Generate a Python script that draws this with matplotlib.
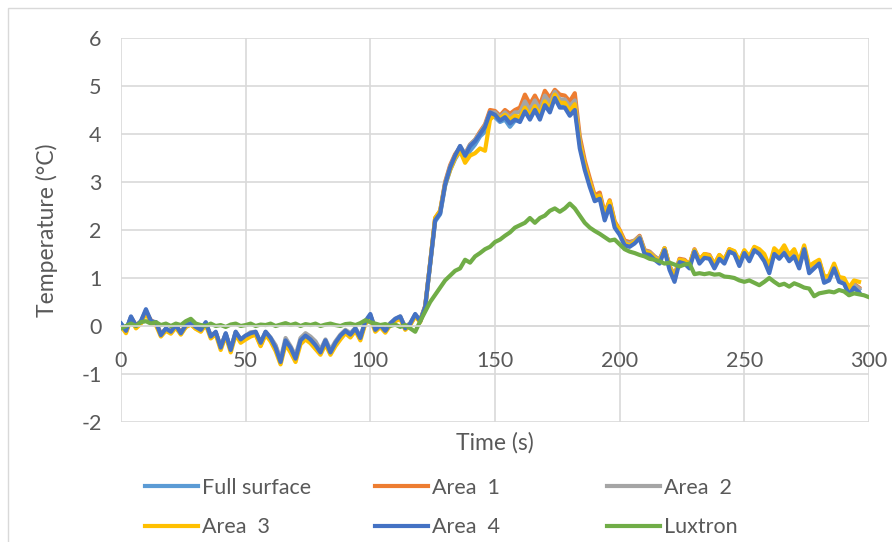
import matplotlib
matplotlib.use("Agg")
import matplotlib.pyplot as plt
import numpy as np
from matplotlib.patches import Rectangle

plt.rcParams["font.family"] = ["Lato", "DejaVu Sans"]
plt.rcParams["axes.unicode_minus"] = False

# sampled every 2 s
time_s = np.arange(0, 297, 2)
time_lux = np.arange(0, 301, 2)

full_surface = [
    0.05, -0.08, 0.18, 0.00, 0.10, 0.32, 0.08, 0.08, -0.18, -0.06,
    -0.12, 0.00, -0.15, 0.02, 0.05, -0.03, -0.08, 0.06, -0.22, -0.14,
    -0.45, -0.17, -0.50, -0.14, -0.30, -0.22, -0.16, -0.14, -0.36, -0.14,
    -0.27, -0.45, -0.74, -0.32, -0.46, -0.68, -0.32, -0.22, -0.30, -0.40,
    -0.54, -0.32, -0.54, -0.36, -0.22, -0.12, -0.18, -0.07, -0.25, 0.08,
    0.22, -0.08, 0.00, -0.10, 0.04, 0.13, 0.18, -0.05, 0.04, 0.22,
    0.10, 0.40, 1.28, 2.18, 2.33, 2.92, 3.25, 3.48, 3.65, 3.45,
    3.65, 3.78, 3.95, 4.05, 4.38, 4.35, 4.25, 4.30, 4.15, 4.28,
    4.30, 4.50, 4.38, 4.58, 4.40, 4.68, 4.55, 4.82, 4.62, 4.62,
    4.45, 4.58, 3.80, 3.32, 2.98, 2.65, 2.70, 2.28, 2.55, 2.12,
    1.95, 1.72, 1.70, 1.75, 1.85, 1.55, 1.52, 1.42, 1.35, 1.60,
    1.22, 1.00, 1.36, 1.34, 1.25, 1.56, 1.35, 1.46, 1.44, 1.25,
    1.44, 1.35, 1.56, 1.52, 1.30, 1.54, 1.40, 1.60, 1.54, 1.40,
    1.18, 1.54, 1.45, 1.58, 1.42, 1.50, 1.28, 1.62, 1.18, 1.26,
    1.32, 0.98, 1.00, 1.22, 0.98, 0.92, 0.72, 0.85, 0.76,
]

area1 = [
    0.02, -0.10, 0.18, 0.02, 0.08, 0.30, 0.12, 0.05, -0.15, -0.08,
    -0.10, 0.00, -0.12, 0.00, 0.05, -0.05, -0.10, 0.05, -0.20, -0.15,
    -0.42, -0.18, -0.48, -0.15, -0.32, -0.25, -0.18, -0.16, -0.40, -0.15,
    -0.28, -0.42, -0.72, -0.35, -0.45, -0.65, -0.32, -0.22, -0.32, -0.45,
    -0.52, -0.35, -0.52, -0.38, -0.22, -0.12, -0.20, -0.08, -0.22, 0.05,
    0.22, -0.05, 0.00, -0.08, 0.05, 0.12, 0.18, -0.02, 0.05, 0.20,
    0.12, 0.42, 1.32, 2.25, 2.40, 3.00, 3.35, 3.58, 3.72, 3.58,
    3.78, 3.88, 4.05, 4.20, 4.50, 4.48, 4.38, 4.50, 4.42, 4.50,
    4.55, 4.82, 4.62, 4.80, 4.60, 4.90, 4.75, 4.92, 4.82, 4.80,
    4.68, 4.85, 3.95, 3.45, 3.08, 2.72, 2.78, 2.35, 2.62, 2.18,
    2.00, 1.78, 1.75, 1.78, 1.88, 1.58, 1.55, 1.45, 1.38, 1.62,
    1.25, 1.05, 1.40, 1.38, 1.28, 1.60, 1.38, 1.50, 1.48, 1.28,
    1.48, 1.38, 1.60, 1.55, 1.32, 1.56, 1.42, 1.62, 1.55, 1.42,
    1.20, 1.55, 1.48, 1.60, 1.45, 1.52, 1.30, 1.62, 1.20, 1.28,
    1.35, 1.02, 1.02, 1.25, 1.00, 0.95, 0.75, 0.88, 0.80,
]

area2 = [
    0.03, -0.12, 0.16, -0.02, 0.08, 0.30, 0.10, 0.04, -0.18, -0.08,
    -0.14, -0.02, -0.16, -0.02, 0.04, -0.05, -0.10, 0.05, -0.20, -0.14,
    -0.43, -0.16, -0.48, -0.12, -0.28, -0.20, -0.13, -0.12, -0.34, -0.12,
    -0.24, -0.40, -0.70, -0.25, -0.42, -0.62, -0.25, -0.15, -0.22, -0.32,
    -0.50, -0.28, -0.50, -0.32, -0.18, -0.08, -0.15, -0.04, -0.22, 0.10,
    0.20, -0.06, 0.02, -0.08, 0.06, 0.15, 0.20, -0.03, 0.06, 0.24,
    0.12, 0.40, 1.30, 2.22, 2.38, 2.98, 3.32, 3.55, 3.75, 3.58,
    3.78, 3.88, 4.02, 4.18, 4.45, 4.45, 4.35, 4.45, 4.35, 4.45,
    4.45, 4.68, 4.50, 4.70, 4.50, 4.80, 4.65, 4.88, 4.72, 4.72,
    4.58, 4.70, 3.85, 3.35, 3.00, 2.68, 2.72, 2.30, 2.58, 2.12,
    1.95, 1.75, 1.72, 1.78, 1.86, 1.56, 1.54, 1.44, 1.38, 1.62,
    1.25, 1.02, 1.38, 1.36, 1.28, 1.58, 1.36, 1.48, 1.46, 1.26,
    1.46, 1.36, 1.58, 1.54, 1.32, 1.56, 1.40, 1.60, 1.55, 1.45,
    1.20, 1.52, 1.46, 1.58, 1.42, 1.50, 1.28, 1.62, 1.18, 1.28,
    1.33, 0.98, 1.00, 1.22, 0.98, 0.92, 0.72, 0.86, 0.78,
]

area3 = [
    0.00, -0.15, 0.15, -0.05, 0.05, 0.28, 0.05, 0.02, -0.22, -0.10,
    -0.16, -0.03, -0.18, -0.02, 0.03, -0.06, -0.12, 0.03, -0.26, -0.17,
    -0.50, -0.20, -0.55, -0.18, -0.35, -0.28, -0.22, -0.18, -0.42, -0.18,
    -0.32, -0.52, -0.80, -0.38, -0.55, -0.75, -0.38, -0.28, -0.36, -0.48,
    -0.60, -0.38, -0.60, -0.42, -0.28, -0.15, -0.24, -0.10, -0.30, 0.05,
    0.15, -0.12, -0.02, -0.14, 0.02, 0.10, 0.15, -0.08, 0.02, 0.20,
    0.08, 0.38, 1.32, 2.25, 2.40, 2.95, 3.25, 3.50, 3.65, 3.40,
    3.55, 3.60, 3.70, 3.65, 4.30, 4.40, 4.32, 4.40, 4.30, 4.38,
    4.35, 4.55, 4.38, 4.58, 4.40, 4.68, 4.52, 4.82, 4.65, 4.65,
    4.48, 4.62, 3.82, 3.35, 3.00, 2.68, 2.72, 2.32, 2.60, 2.15,
    1.98, 1.72, 1.68, 1.76, 1.84, 1.55, 1.52, 1.42, 1.35, 1.62,
    1.24, 1.00, 1.38, 1.36, 1.28, 1.58, 1.38, 1.50, 1.46, 1.28,
    1.48, 1.38, 1.60, 1.56, 1.35, 1.58, 1.45, 1.65, 1.60, 1.50,
    1.25, 1.62, 1.52, 1.68, 1.48, 1.60, 1.35, 1.68, 1.25, 1.32,
    1.38, 1.02, 1.05, 1.30, 1.02, 1.00, 0.80, 0.95, 0.92,
]

area4 = [
    0.05, -0.10, 0.20, 0.00, 0.10, 0.35, 0.10, 0.08, -0.19, -0.05,
    -0.12, 0.02, -0.15, 0.02, 0.06, -0.02, -0.08, 0.08, -0.22, -0.12,
    -0.45, -0.15, -0.50, -0.12, -0.28, -0.20, -0.15, -0.12, -0.35, -0.12,
    -0.25, -0.45, -0.75, -0.30, -0.45, -0.68, -0.30, -0.20, -0.28, -0.40,
    -0.55, -0.30, -0.55, -0.35, -0.20, -0.10, -0.18, -0.05, -0.25, 0.10,
    0.25, -0.08, 0.02, -0.10, 0.05, 0.15, 0.20, -0.05, 0.05, 0.25,
    0.10, 0.40, 1.30, 2.20, 2.35, 2.95, 3.30, 3.55, 3.75, 3.55,
    3.75, 3.85, 4.00, 4.15, 4.45, 4.40, 4.28, 4.35, 4.22, 4.30,
    4.25, 4.47, 4.30, 4.50, 4.30, 4.60, 4.45, 4.75, 4.55, 4.55,
    4.38, 4.50, 3.70, 3.25, 2.90, 2.60, 2.65, 2.20, 2.50, 2.05,
    1.90, 1.68, 1.65, 1.72, 1.83, 1.50, 1.48, 1.38, 1.30, 1.58,
    1.17, 0.92, 1.33, 1.30, 1.20, 1.55, 1.30, 1.42, 1.40, 1.20,
    1.40, 1.30, 1.55, 1.50, 1.25, 1.52, 1.35, 1.58, 1.50, 1.35,
    1.10, 1.50, 1.40, 1.52, 1.35, 1.45, 1.20, 1.60, 1.10, 1.20,
    1.30, 0.90, 0.95, 1.20, 0.92, 0.88, 0.65, 0.80, 0.70,
]

luxtron = [
    -0.05, 0.00, 0.05, 0.00, 0.08, 0.10, 0.05, 0.08, 0.02, 0.05,
    0.00, 0.05, 0.02, 0.10, 0.15, 0.05, 0.02, 0.00, 0.05, 0.00,
    0.02, -0.02, 0.03, 0.05, 0.00, 0.02, 0.05, 0.00, 0.03, 0.02,
    0.05, 0.00, 0.03, 0.06, 0.02, 0.05, 0.00, 0.04, 0.02, 0.05,
    0.00, 0.03, 0.05, 0.02, 0.00, 0.04, 0.05, 0.02, 0.06, 0.12,
    0.08, 0.05, 0.02, 0.04, 0.00, 0.03, -0.02, 0.02, -0.05, -0.12,
    0.10, 0.30, 0.50, 0.65, 0.80, 0.95, 1.05, 1.15, 1.20, 1.38,
    1.32, 1.45, 1.52, 1.60, 1.65, 1.75, 1.80, 1.88, 1.95, 2.05,
    2.10, 2.15, 2.25, 2.15, 2.25, 2.30, 2.40, 2.45, 2.38, 2.45,
    2.55, 2.45, 2.30, 2.15, 2.05, 1.98, 1.92, 1.85, 1.78, 1.80,
    1.70, 1.60, 1.55, 1.52, 1.48, 1.45, 1.40, 1.38, 1.35, 1.30,
    1.32, 1.28, 1.24, 1.28, 1.30, 1.08, 1.10, 1.08, 1.10, 1.07,
    1.08, 1.03, 1.02, 1.00, 0.95, 0.92, 0.95, 0.90, 0.85, 0.92,
    1.00, 0.92, 0.85, 0.88, 0.82, 0.89, 0.85, 0.80, 0.78, 0.62,
    0.68, 0.70, 0.72, 0.70, 0.75, 0.72, 0.64, 0.68, 0.66, 0.64,
    0.60,
]

series = [
    ("Full surface", time_s, full_surface, "#5B9BD5"),
    ("Area  1", time_s, area1, "#ED7D31"),
    ("Area  2", time_s, area2, "#A5A5A5"),
    ("Area  3", time_s, area3, "#FFC000"),
    ("Area  4", time_s, area4, "#4472C4"),
    ("Luxtron", time_lux, luxtron, "#70AD47"),
]

text_color = "#595959"
grid_color = "#D9D9D9"
fs = 15.5

fig = plt.figure(figsize=(8.92, 5.42), dpi=100)
fig.patches.append(Rectangle((8 / 892, -0.1), 1.2, 1 - 8 / 542 + 0.1, transform=fig.transFigure,
                             fill=False, edgecolor=grid_color, linewidth=1.0))
ax = fig.add_axes([121 / 892, 1 - 422 / 542, (869 - 121) / 892, (422 - 38) / 542])

handles = {}
for name, t, vals, color in series:
    (ln,) = ax.plot(t, vals, color=color, linewidth=3.0, solid_joinstyle="round", label=name)
    handles[name] = ln

ax.set_xlim(0, 300)
ax.set_ylim(-2, 6)
ax.set_xticks(np.arange(0, 301, 50))
ax.set_yticks(np.arange(-2, 7, 1))
ax.grid(True, color=grid_color, linewidth=1.2)
ax.set_axisbelow(True)
for side in ["top", "right", "left"]:
    ax.spines[side].set_visible(False)
ax.spines["bottom"].set_position(("data", 0))
ax.spines["bottom"].set_color(grid_color)
ax.spines["bottom"].set_linewidth(1.2)
ax.tick_params(axis="both", length=0, labelsize=fs, labelcolor=text_color)
ax.tick_params(axis="x", pad=18)
ax.tick_params(axis="y", pad=14)

fig.text(495 / 892, 1 - 443 / 542, "Time (s)", ha="center", va="center", fontsize=16.5, color=text_color)
fig.text(47 / 892, 1 - 230 / 542, "Temperature (°C)", ha="center", va="center", rotation=90,
         fontsize=16.5, color=text_color)

columns = [(145, ["Full surface", "Area  3"]), (375, ["Area  1", "Area  4"]), (607, ["Area  2", "Luxtron"])]
for x0, names in columns:
    leg = fig.legend([handles[n] for n in names], names, loc="upper left",
                     bbox_to_anchor=(x0 / 892, 1 - 478 / 542), frameon=False, borderpad=0,
                     borderaxespad=0, handlelength=2.45, handletextpad=0.2, labelspacing=0.9,
                     fontsize=fs)
    for txt in leg.get_texts():
        txt.set_color(text_color)

fig.savefig("out.png", dpi=100)
